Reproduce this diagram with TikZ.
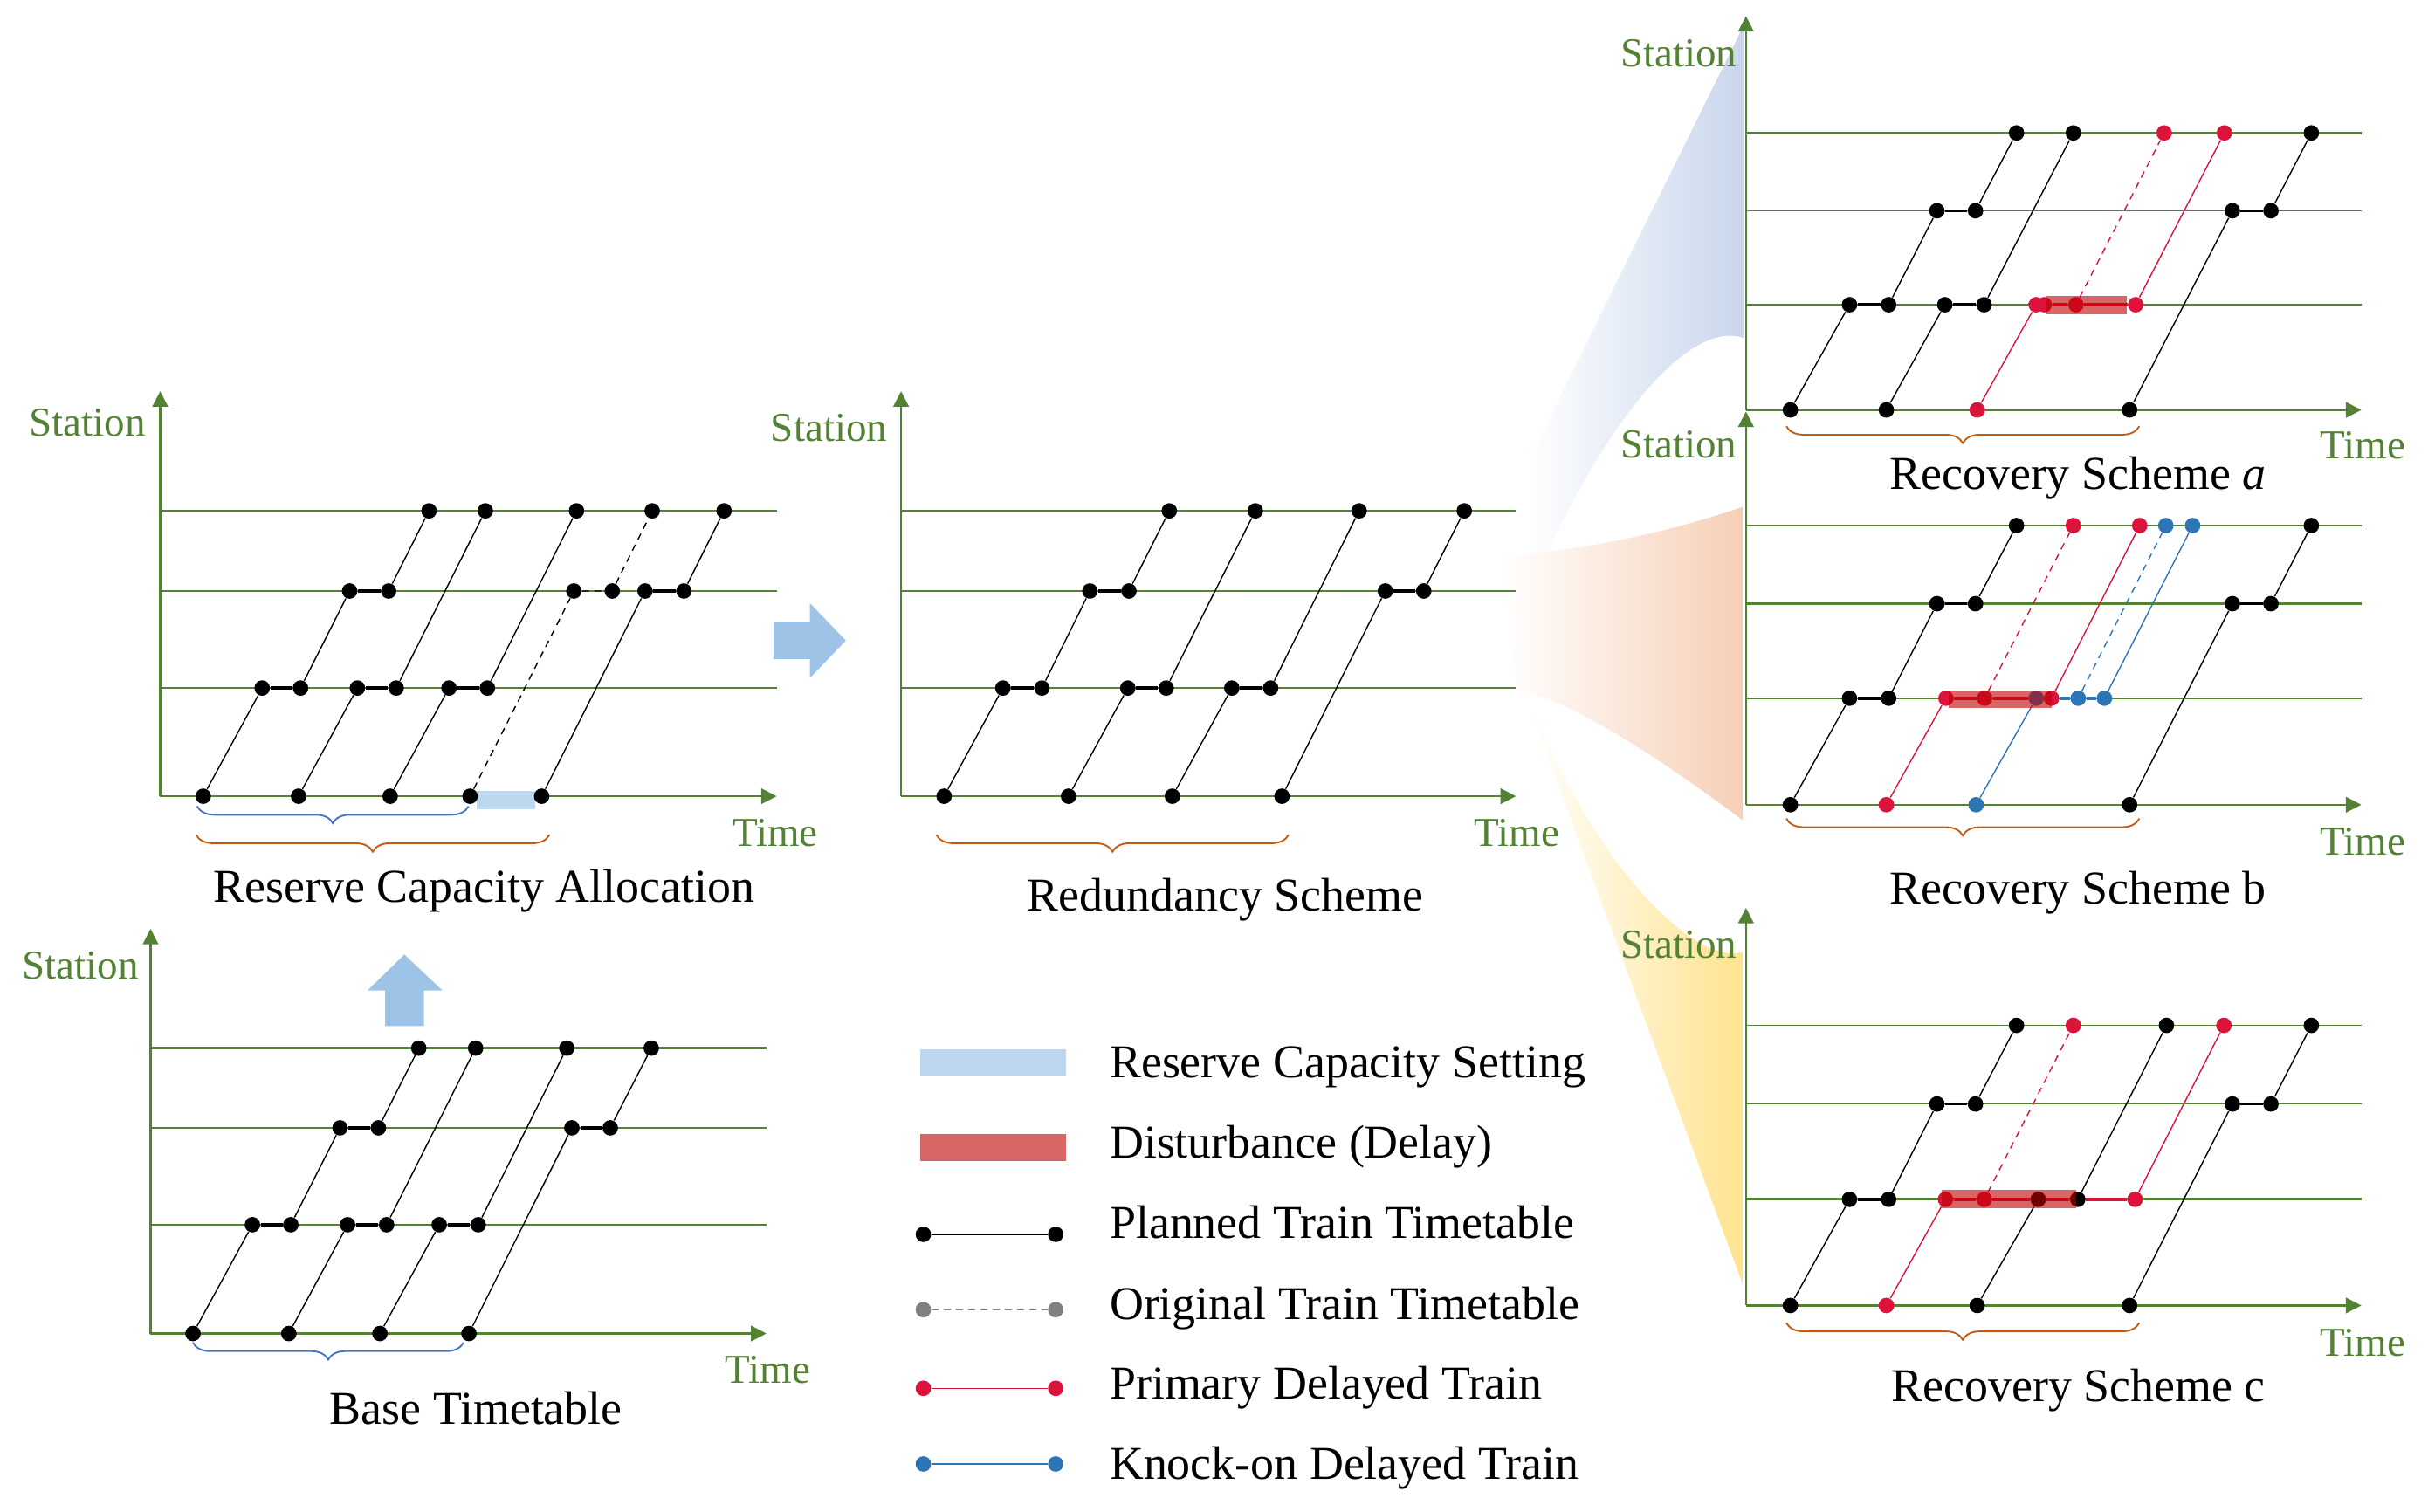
\documentclass[tikz,border=0pt]{standalone}
\usepackage{fontspec}
\setmainfont{Liberation Serif}
\usetikzlibrary{arrows.meta,decorations.pathreplacing}
\definecolor{axisgreen}{HTML}{548235}
\definecolor{reserveblue}{HTML}{BDD7EE}
\definecolor{arrowblue}{HTML}{9DC3E6}
\definecolor{delayred}{HTML}{C00000}
\definecolor{primaryred}{HTML}{DC143C}
\definecolor{knockblue}{HTML}{2E75B6}
\definecolor{braceblue}{HTML}{4472C4}
\definecolor{braceorange}{HTML}{C55A11}
\definecolor{fanblue}{HTML}{C9D6EC}
\definecolor{fanpeach}{HTML}{F7CFB6}
\definecolor{fanyellow}{HTML}{FFE38F}
\tikzset{
	axis/.style = { draw=axisgreen, line width=0.7pt, -{Triangle[length=2mm,width=2mm]} },
	stationline/.style = { draw=axisgreen, line width=0.45pt },
	mainline/.style = { draw=axisgreen, line width=0.9pt },
	axislabel/.style = { text=axisgreen, font=\fontsize{15.1}{18}\selectfont, inner sep=0pt },
	title/.style = { font=\fontsize{17.3}{20}\selectfont, inner sep=0pt },
	dot/.style = { circle, fill=black, inner sep=0pt, minimum size=2mm },
	reddot/.style = { dot, fill=primaryred },
	bluedot/.style = { dot, fill=knockblue },
	greydot/.style = { dot, fill=gray },
	run/.style = { line width=0.45pt },
	dwell/.style = { line width=1.1pt },
	legendline/.style = { line width=0.8pt },
	original/.style = { line width=0.45pt, dash pattern=on 2.5pt off 2pt },
	reserve/.style = { fill=reserveblue },
	disturb/.style = { fill=delayred, opacity=0.6 },
	bracedown/.style = { decorate, decoration={brace, mirror, amplitude=2.2mm}, line width=0.6pt },
}

\begin{document}
\begin{tikzpicture}[x=0.2mm, y=-0.2mm]
\useasboundingbox (0,0) rectangle (1568.8,977);

\shade[left color=white, right color=fanblue] (986.7,299.4) -- (1126.7,16.2) -- (1126.7,218.5) .. controls (1090,205) and (1030,280) .. (986.7,388.4) -- cycle;
\shade[left color=white, right color=fanpeach] (970.7,358.7) .. controls (1030,356) and (1090,340) .. (1126.3,327.4) -- (1126.3,530.2) .. controls (1075,492) and (1020,455) .. (980.1,445) -- cycle;
\shade[left color=white, right color=fanyellow] (986.7,453) -- (1126.3,830.7) -- (1126.3,614.9) .. controls (1100,625) and (1035,570) .. (986.7,450.4) -- cycle;

\fill[arrowblue] (499.8,401.7) -- (523.3,401.7) -- (523.3,389.8) -- (546.5,413.9) -- (523.3,438.1) -- (523.3,425.9) -- (499.8,425.9) -- cycle;
\fill[arrowblue] (248.8,663.1) -- (248.8,640) -- (237.5,640) -- (261.3,616.8) -- (285.8,640) -- (273.9,640) -- (273.9,663.1) -- cycle;

\begin{scope}[shift={(97.3,861.7)}]
	\def\topst{-184.4}\def\midst{-132.9}\def\lowst{-70.3}
	\draw[mainline] (0,\topst) -- (397.9,\topst);
	\draw[mainline] (0,\midst) -- (397.9,\midst);
	\draw[stationline] (0,\lowst) -- (397.9,\lowst);
	\draw[axis] (0,0) -- (0,-261.5);
	\draw[axis] (0,0) -- (397.9,0);
	\node[axislabel, anchor=base east] (bt-station) at (-7.3,-229) {Station};
	\node[axislabel, anchor=base west] (bt-time) at (370.8,32) {Time};
	\foreach \n/\x/\y in {11/27.4/0, 12/65.8/\lowst, 13/90.6/\lowst, 14/122.4/\midst, 15/147.2/\midst, 16/173.3/\topst,
		21/89.3/0, 22/127.3/\lowst, 23/152.5/\lowst, 24/210/\topst,
		31/148.2/0, 32/186.5/\lowst, 33/211.7/\lowst, 34/268.9/\topst,
		41/205.7/0, 42/272.2/\midst, 43/297/\midst, 44/323.5/\topst}
		\node[dot] (bt\n) at (\x,\y) {};
	\foreach \a/\b in {11/12,13/14,15/16,21/22,23/24,31/32,33/34,41/42,43/44}
		\draw[run] (bt\a) -- (bt\b);
	\foreach \a/\b in {12/13,14/15,22/23,32/33,42/43}
		\draw[dwell] (bt\a) -- (bt\b);
	\draw[braceblue, bracedown] (27.4,5.9) -- (202.1,5.9);
	\node[title, anchor=base] (bt-title) at (210.3,58.8) {Base Timetable};
\end{scope}

\begin{scope}[shift={(103.5,514.5)}]
	\def\topst{-184.4}\def\midst{-132.6}\def\lowst{-69.9}
	\foreach \r in {\topst,\midst,\lowst}
		\draw[stationline] (0,\r) -- (398.3,\r);
	\draw[axis] (0,0) -- (0,-261.7);
	\draw[axis] (0,0) -- (398.3,0);
	\node[axislabel, anchor=base east] (rc-station) at (-9.2,-232.9) {Station};
	\node[axislabel, anchor=base west] (rc-time) at (369.5,32.2) {Time};
	\fill[reserve] (204.5,-3.5) rectangle (242.5,8.5);
	\foreach \n/\x/\y in {11/27.8/0, 12/65.9/\lowst, 13/90.7/\lowst, 14/122.4/\midst, 15/147.6/\midst, 16/173.7/\topst,
		21/89.4/0, 22/127.4/\lowst, 23/152.5/\lowst, 24/210.1/\topst,
		31/148.6/0, 32/186.6/\lowst, 33/211.4/\lowst, 34/269/\topst,
		41/200.2/0, 42/267.3/\midst, 43/292.1/\midst, 44/317.9/\topst,
		51/246.5/0, 52/313.3/\midst, 53/338.4/\midst, 54/364.3/\topst}
		\node[dot] (rc\n) at (\x,\y) {};
	\foreach \a/\b in {11/12,13/14,15/16,21/22,23/24,31/32,33/34,51/52,53/54}
		\draw[run] (rc\a) -- (rc\b);
	\foreach \a/\b in {12/13,14/15,22/23,32/33,52/53}
		\draw[dwell] (rc\a) -- (rc\b);
	\draw[original] (rc41) -- (rc42) -- (rc43) -- (rc44);
	\draw[braceblue, bracedown] (23.9,6.5) -- (199.2,6.5);
	\draw[braceorange, bracedown] (23.2,24.9) -- (251.5,24.9);
	\node[title, anchor=base] (rc-title) at (209.1,68.6) {Reserve Capacity Allocation};
\end{scope}

\begin{scope}[shift={(582.2,514.5)}]
	\def\topst{-184.4}\def\midst{-132.6}\def\lowst{-69.9}
	\foreach \r in {\topst,\midst,\lowst}
		\draw[stationline] (0,\r) -- (397.3,\r);
	\draw[axis] (0,0) -- (0,-261.7);
	\draw[axis] (0,0) -- (397.3,0);
	\node[axislabel, anchor=base east] (rd-station) at (-8.6,-229.5) {Station};
	\node[axislabel, anchor=base west] (rd-time) at (370.1,32.2) {Time};
	\foreach \n/\x/\y in {11/27.8/0, 12/65.8/\lowst, 13/91/\lowst, 14/122/\midst, 15/147.2/\midst, 16/173.3/\topst,
		21/108.2/0, 22/146.5/\lowst, 23/171.3/\lowst, 24/228.9/\topst,
		31/175.3/0, 32/213.7/\lowst, 33/238.8/\lowst, 34/296/\topst,
		41/246.1/0, 42/312.9/\midst, 43/337.7/\midst, 44/363.9/\topst}
		\node[dot] (rd\n) at (\x,\y) {};
	\foreach \a/\b in {11/12,13/14,15/16,21/22,23/24,31/32,33/34,41/42,43/44}
		\draw[run] (rd\a) -- (rd\b);
	\foreach \a/\b in {12/13,14/15,22/23,32/33,42/43}
		\draw[dwell] (rd\a) -- (rd\b);
	\draw[braceorange, bracedown] (22.8,24.9) -- (250.4,24.9);
	\node[title, anchor=base] (rd-title) at (209.4,74.4) {Redundancy Scheme};
\end{scope}

\begin{scope}[shift={(1128.1,264.9)}]
	\def\topst{-179}\def\midst{-128.7}\def\lowst{-68}
	\draw[mainline] (0,\topst) -- (397.6,\topst);
	\draw[stationline] (0,\midst) -- (397.6,\midst);
	\draw[stationline] (0,\lowst) -- (397.6,\lowst);
	\draw[axis] (0,0) -- (0,-254.5);
	\draw[axis] (0,0) -- (397.6,0);
	\node[axislabel, anchor=base east] (sa-station) at (-5.5,-221.7) {Station};
	\node[axislabel, anchor=base west] (sa-time) at (370.8,31.7) {Time};
	\foreach \n/\x/\y in {11/28.7/0, 12/66.9/\lowst, 13/92.2/\lowst, 14/123.4/\midst, 15/148.3/\midst, 16/174.8/\topst,
		21/90.7/0, 22/128.5/\lowst, 23/153.9/\lowst, 24/211.5/\topst,
		41/247.9/0, 42/314.3/\midst, 43/339.2/\midst, 44/365.3/\topst}
		\node[dot] (sa\n) at (\x,\y) {};
	\foreach \n/\x/\y in {31/149.4/0, 32/187.5/\lowst, 33/192.7/\lowst, 34/213.2/\lowst, 35/251.8/\lowst, 36/270.2/\topst, 37/309.1/\topst}
		\node[reddot] (sa\n) at (\x,\y) {};
	\foreach \a/\b in {11/12,13/14,15/16,21/22,23/24,41/42,43/44}
		\draw[run] (sa\a) -- (sa\b);
	\foreach \a/\b in {12/13,14/15,22/23,42/43}
		\draw[dwell] (sa\a) -- (sa\b);
	\draw[run, primaryred] (sa31) -- (sa32);
	\draw[dwell, primaryred] (sa32) -- (sa33) -- (sa34) -- (sa35);
	\draw[original, primaryred] (sa34) -- (sa36);
	\draw[run, primaryred] (sa35) -- (sa37);
	\fill[disturb] (194.1,-73.8) rectangle (246.3,-62);
	\draw[braceorange, bracedown] (26.1,10.5) -- (254.1,10.5);
	\node[title, anchor=base] (sa-title) at (214.4,51.1) {Recovery Scheme \textit{a}};
\end{scope}

\begin{scope}[shift={(1128.1,520)}]
	\def\topst{-180.4}\def\midst{-129.9}\def\lowst{-68.8}
	\draw[stationline] (0,\topst) -- (397.6,\topst);
	\draw[mainline] (0,\midst) -- (397.6,\midst);
	\draw[stationline] (0,\lowst) -- (397.6,\lowst);
	\draw[axis] (0,0) -- (0,-254.1);
	\draw[axis] (0,0) -- (397.6,0);
	\node[axislabel, anchor=base east] (sb-station) at (-5.5,-224.4) {Station};
	\node[axislabel, anchor=base west] (sb-time) at (370.8,32.3) {Time};
	\foreach \n/\x/\y in {11/28.7/0, 12/66.9/\lowst, 13/92.2/\lowst, 14/123.4/\midst, 15/148.3/\midst, 16/174.8/\topst,
		41/247.9/0, 42/314.3/\midst, 43/339.2/\midst, 44/365.3/\topst}
		\node[dot] (sb\n) at (\x,\y) {};
	\foreach \n/\x/\y in {21/90.7/0, 22/129.2/\lowst, 23/154.2/\lowst, 24/211.5/\topst, 25/197.4/\lowst, 26/254.4/\topst}
		\node[reddot] (sb\n) at (\x,\y) {};
	\foreach \n/\x/\y in {31/148.7/0, 32/187.5/\lowst, 33/214.7/\lowst, 34/271.3/\topst, 35/231.6/\lowst, 36/288.6/\topst}
		\node[bluedot] (sb\n) at (\x,\y) {};
	\foreach \a/\b in {11/12,13/14,15/16,41/42,43/44}
		\draw[run] (sb\a) -- (sb\b);
	\foreach \a/\b in {12/13,14/15,42/43}
		\draw[dwell] (sb\a) -- (sb\b);
	\draw[run, primaryred] (sb21) -- (sb22);
	\draw[dwell, primaryred] (sb22) -- (sb23) -- (sb32) -- (sb25);
	\draw[original, primaryred] (sb23) -- (sb24);
	\draw[run, primaryred] (sb25) -- (sb26);
	\draw[run, knockblue] (sb31) -- (sb32);
	\draw[dwell, knockblue] (sb32) -- (sb25) -- (sb33) -- (sb35);
	\draw[original, knockblue] (sb33) -- (sb34);
	\draw[run, knockblue] (sb35) -- (sb36);
	\fill[disturb] (131.1,-74) rectangle (197.8,-62.4);
	\draw[braceorange, bracedown] (26.1,9) -- (254.1,9);
	\node[title, anchor=base] (sb-title) at (214.4,64) {Recovery Scheme b};
\end{scope}

\begin{scope}[shift={(1128.1,843.6)}]
	\def\topst{-181}\def\midst{-130.2}\def\lowst{-68.6}
	\draw[stationline] (0,\topst) -- (397.6,\topst);
	\draw[stationline] (0,\midst) -- (397.6,\midst);
	\draw[mainline] (0,\lowst) -- (397.6,\lowst);
	\draw[axis] (0,0) -- (0,-257);
	\draw[axis] (0,0) -- (397.6,0);
	\node[axislabel, anchor=base east] (sc-station) at (-5.5,-224.4) {Station};
	\node[axislabel, anchor=base west] (sc-time) at (370.8,32.6) {Time};
	\foreach \n/\x/\y in {11/28.7/0, 12/66.9/\lowst, 13/92.2/\lowst, 14/123.4/\midst, 15/148.3/\midst, 16/174.8/\topst,
		31/149.4/0, 32/188.8/\lowst, 33/214.4/\lowst, 34/271.7/\topst,
		41/247.9/0, 42/314.3/\midst, 43/339.2/\midst, 44/365.3/\topst}
		\node[dot] (sc\n) at (\x,\y) {};
	\foreach \n/\x/\y in {21/90.7/0, 22/128.9/\lowst, 23/154/\lowst, 24/211.5/\topst, 25/251.4/\lowst, 26/308.8/\topst}
		\node[reddot] (sc\n) at (\x,\y) {};
	\foreach \a/\b in {11/12,13/14,15/16,31/32,33/34,41/42,43/44}
		\draw[run] (sc\a) -- (sc\b);
	\foreach \a/\b in {12/13,14/15,32/33,42/43}
		\draw[dwell] (sc\a) -- (sc\b);
	\draw[run, primaryred] (sc21) -- (sc22);
	\draw[dwell, primaryred] (sc22) -- (sc23) -- (sc32) -- (sc33) -- (sc25);
	\draw[original, primaryred] (sc23) -- (sc24);
	\draw[run, primaryred] (sc25) -- (sc26);
	\fill[disturb] (126.4,-74.5) rectangle (213.2,-62.7);
	\draw[braceorange, bracedown] (26.1,11.2) -- (254.1,11.2);
	\node[title, anchor=base] (sc-title) at (214.9,62.2) {Recovery Scheme c};
\end{scope}

\fill[reserve] (594.3,677.8) rectangle (688.9,695.1);
\fill[disturb] (594.3,733) rectangle (688.9,750.3);
\node[dot] (lg1a) at (596.6,797.6) {};
\node[dot] (lg1b) at (682.1,797.6) {};
\node[greydot] (lg2a) at (596.6,846.3) {};
\node[greydot] (lg2b) at (682.1,846.3) {};
\node[reddot] (lg3a) at (596.6,897.1) {};
\node[reddot] (lg3b) at (682.1,897.1) {};
\node[bluedot] (lg4a) at (596.6,946) {};
\node[bluedot] (lg4b) at (682.1,946) {};
\draw[legendline] (lg1a) -- (lg1b);
\draw[original, gray] (lg2a) -- (lg2b);
\draw[run, primaryred] (lg3a) -- (lg3b);
\draw[run, knockblue] (lg4a) -- (lg4b);
\node[title, anchor=base west] (lg-reserve) at (716.7,696.3) {Reserve Capacity Setting};
\node[title, anchor=base west] (lg-delay) at (716.7,748.3) {Disturbance (Delay)};
\node[title, anchor=base west] (lg-planned) at (716.7,800) {Planned Train Timetable};
\node[title, anchor=base west] (lg-original) at (716.7,852.4) {Original Train Timetable};
\node[title, anchor=base west] (lg-primary) at (716.7,903.7) {Primary Delayed Train};
\node[title, anchor=base west] (lg-knock) at (716.7,955.7) {Knock-on Delayed Train};
\end{tikzpicture}
\end{document}
